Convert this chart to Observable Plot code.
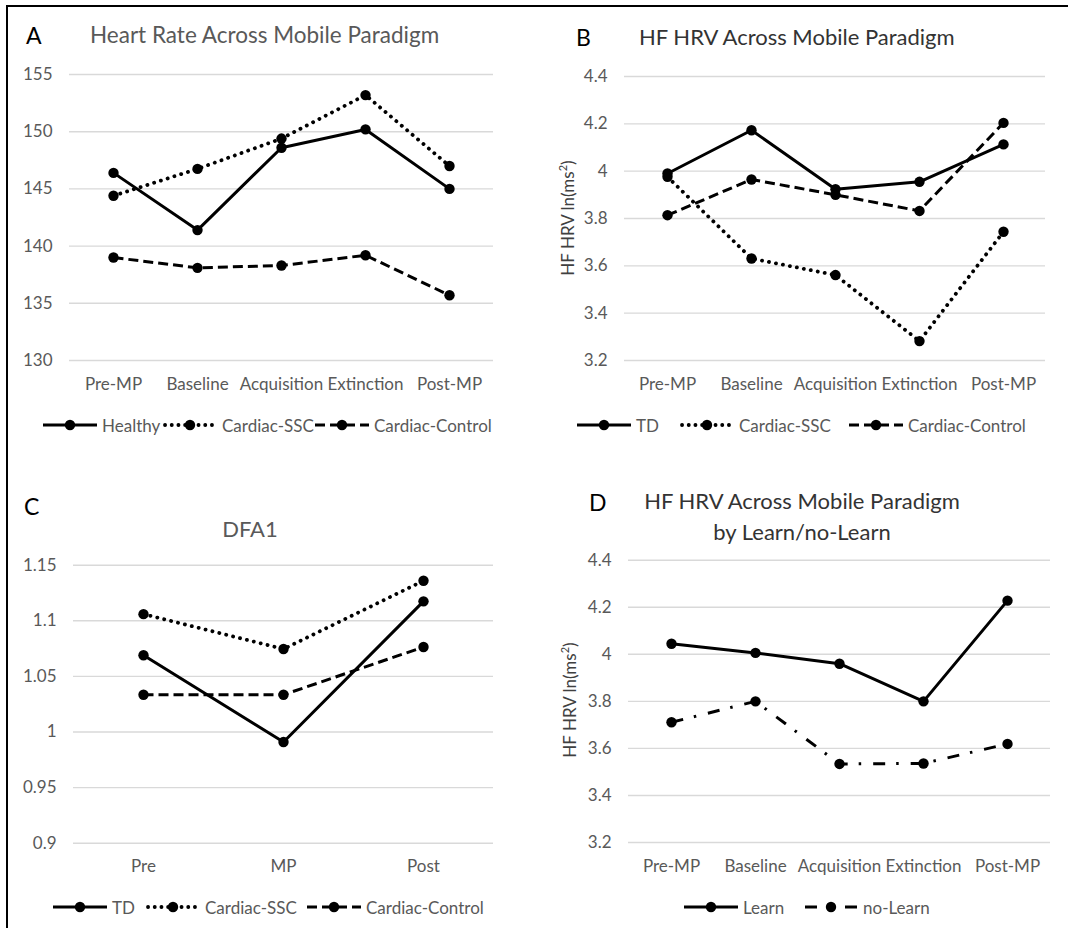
<!DOCTYPE html>
<html>
<head>
<meta charset="utf-8">
<script src="https://cdn.jsdelivr.net/npm/d3@7"></script>
<script src="https://cdn.jsdelivr.net/npm/@observablehq/plot@0.6"></script>
<style>
  html, body { margin: 0; padding: 0; background: #fff; }
  #fig { position: relative; width: 1068px; height: 928px; background: #fff; overflow: hidden; font-family: Lato, "Open Sans", sans-serif; }
  .abs { position: absolute; white-space: nowrap; }
  .letter { font-size: 23px; color: #000; line-height: 1; }
  .title { font-size: 22px; line-height: 1; }
  .ylab { font-size: 17px; color: #404040; transform-origin: center center; transform: translate(-50%, -50%) rotate(-90deg); }
  .legend { font-size: 17px; color: #595959; display: flex; align-items: center; }
  .legend svg { display: block; flex: none; }
  .legend span { margin-left: 5px; }
</style>
</head>
<body>
<div id="fig"></div>
<script>
// ---------- data ----------
const phases = ["Pre-MP", "Baseline", "Acquisition", "Extinction", "Post-MP"];
const dfaPhases = ["Pre", "MP", "Post"];

// Panel A: Heart rate
const hrHealthy = [146.4, 141.4, 148.6, 150.2, 145.0];
const hrSSC     = [144.4, 146.75, 149.4, 153.2, 147.0];
const hrControl = [139.0, 138.1, 138.3, 139.2, 135.7];
const hrTicks   = [130, 135, 140, 145, 150, 155];

// Panel B: HF HRV
const hfTD      = [3.99, 4.173, 3.924, 3.955, 4.113];
const hfSSC     = [3.976, 3.631, 3.561, 3.282, 3.744];
const hfControl = [3.814, 3.965, 3.90, 3.832, 4.204];
const hfTicks   = [3.2, 3.4, 3.6, 3.8, 4, 4.2, 4.4];

// Panel C: DFA1
const dfaTD      = [1.069, 0.991, 1.1175];
const dfaSSC     = [1.106, 1.0746, 1.136];
const dfaControl = [1.0335, 1.0335, 1.0764];
const dfaTicks   = [0.9, 0.95, 1, 1.05, 1.1, 1.15];

// Panel D: HF HRV by learn
const hfLearn   = [4.045, 4.006, 3.96, 3.80, 4.228];
const hfNoLearn = [3.711, 3.80, 3.534, 3.536, 3.619];

// ---------- styles ----------
const FONT = 'Lato, "Open Sans", sans-serif';
const GRAY = "#595959";
const STYLES = {
  solid:   {strokeDasharray: null, strokeLinecap: "butt", legendPath: "M0,7H54"},
  dotted:  {strokeDasharray: "0.1,7", strokeLinecap: "round", strokeWidth: 3.8, legendDash: "0.1,6.6", legendPath: "M2,7H54"},
  dashed:  {strokeDasharray: "10,5", strokeLinecap: "butt", legendDash: "10,5", legendPath: "M0,7H54"},
  dashdot: {strokeDasharray: "12,11,2.5,12", strokeLinecap: "butt", legendPath: "M1,7H13M41,7H53"}
};

const fig = document.getElementById("fig");

function add(html, cls, left, top, extraStyle = "") {
  const d = document.createElement("div");
  d.className = "abs " + cls;
  d.style.left = left + "px";
  d.style.top = top + "px";
  d.style.cssText += extraStyle;
  d.innerHTML = html;
  fig.appendChild(d);
  return d;
}

function panel({left, top, width, height, margin, cats, series, domain, ticks}) {
  const marks = [Plot.ruleY(ticks, {stroke: "#d9d9d9", strokeWidth: 1.4})];
  for (const s of series) {
    const rows = s.values.map((v, i) => ({cat: cats[i], v}));
    const st = STYLES[s.style];
    marks.push(Plot.line(rows, {x: "cat", y: "v", stroke: "#000", strokeWidth: st.strokeWidth || 3,
      strokeDasharray: st.strokeDasharray, strokeLinecap: st.strokeLinecap}));
    marks.push(Plot.dot(rows, {x: "cat", y: "v", r: 5.2, fill: "#000", stroke: "none"}));
  }
  marks.push(Plot.axisX({tickSize: 0, tickPadding: 17, label: null, fontSize: 17}));
  marks.push(Plot.axisY(ticks, {tickSize: 0, tickPadding: 17, label: null, tickFormat: d => String(d), fontSize: 17}));
  const svg = Plot.plot({
    width, height,
    marginLeft: margin[0], marginRight: margin[1], marginTop: margin[2], marginBottom: margin[3],
    x: {type: "point", domain: cats, padding: 0.5},
    y: {domain},
    style: {fontFamily: FONT, fontSize: "17px", color: GRAY, background: "transparent", overflow: "visible"},
    marks
  });
  svg.style.position = "absolute";
  svg.style.left = left + "px";
  svg.style.top = top + "px";
  fig.appendChild(svg);
}

function swatch(style) {
  const st = STYLES[style];
  const w = 54, h = 14;
  const dash = st.legendDash ? ` stroke-dasharray="${st.legendDash}"` : "";
  const html = `<svg xmlns="http://www.w3.org/2000/svg" width="${w}" height="${h}" style="overflow:visible">` +
    `<path d="${st.legendPath}" fill="none" stroke="#000" stroke-width="${st.strokeWidth || 3}" stroke-linecap="${st.strokeLinecap}"${dash}/>` +
    `<circle cx="27" cy="7" r="5.2" fill="#000"/></svg>`;
  return html;
}

function legendItem(style, name, left, cy) {
  add(swatch(style) + `<span>${name}</span>`, "legend", left, cy - 11, "height:22px;");
}

// ---------- border ----------
add("", "", 6, 5, "width:1062px;height:2px;background:#000;");
add("", "", 6, 5, "width:2px;height:923px;background:#000;");

// ---------- Panel A ----------
panel({left: 0, top: 0, width: 534, height: 410, margin: [69, 41, 74, 50], cats: phases,
  series: [{values: hrHealthy, style: "solid"}, {values: hrSSC, style: "dotted"}, {values: hrControl, style: "dashed"}],
  domain: [130, 155], ticks: hrTicks});
add("A", "letter", 26, 24);
add("Heart Rate Across Mobile Paradigm", "title", 90, 24, "color:#595959;font-size:22.5px;");
legendItem("solid", "Healthy", 43, 425);
legendItem("dotted", "Cardiac-SSC", 163, 425);
legendItem("dashed", "Cardiac-Control", 315, 425);

// ---------- Panel B ----------
panel({left: 534, top: 0, width: 534, height: 410, margin: [90, 23, 76, 50], cats: phases,
  series: [{values: hfTD, style: "solid"}, {values: hfSSC, style: "dotted"}, {values: hfControl, style: "dashed"}],
  domain: [3.2, 4.4], ticks: hfTicks});
add("B", "letter", 576, 26);
add("HF HRV Across Mobile Paradigm", "title", 639, 26, "color:#333;");
add("HF HRV ln(ms<sup style='font-size:11px'>2</sup>)", "ylab", 567, 218);
legendItem("solid", "TD", 577, 425);
legendItem("dotted", "Cardiac-SSC", 680, 425);
legendItem("dashed", "Cardiac-Control", 849, 425);

// ---------- Panel C ----------
panel({left: 0, top: 464, width: 534, height: 430, margin: [73, 41, 100.7, 51.3], cats: dfaPhases,
  series: [{values: dfaTD, style: "solid"}, {values: dfaSSC, style: "dotted"}, {values: dfaControl, style: "dashed"}],
  domain: [0.9, 1.15], ticks: dfaTicks});
add("C", "letter", 24, 495);
add("DFA1", "title", 250, 529, "color:#595959;transform:translate(-50%,-50%);");
legendItem("solid", "TD", 53, 907);
legendItem("dotted", "Cardiac-SSC", 146, 907);
legendItem("dashed", "Cardiac-Control", 307, 907);

// ---------- Panel D ----------
panel({left: 534, top: 464, width: 534, height: 430, margin: [94, 18, 95.7, 52], cats: phases,
  series: [{values: hfLearn, style: "solid"}, {values: hfNoLearn, style: "dashdot"}],
  domain: [3.2, 4.4], ticks: hfTicks});
add("D", "letter", 589, 491);
add("HF HRV Across Mobile Paradigm<br>by Learn/no-Learn", "title", 802, 516,
  "color:#333;text-align:center;line-height:31px;transform:translate(-50%,-50%);");
add("HF HRV ln(ms<sup style='font-size:11px'>2</sup>)", "ylab", 569, 700);
legendItem("solid", "Learn", 684, 907);
legendItem("dashdot", "no-Learn", 804, 907);
</script>
</body>
</html>
